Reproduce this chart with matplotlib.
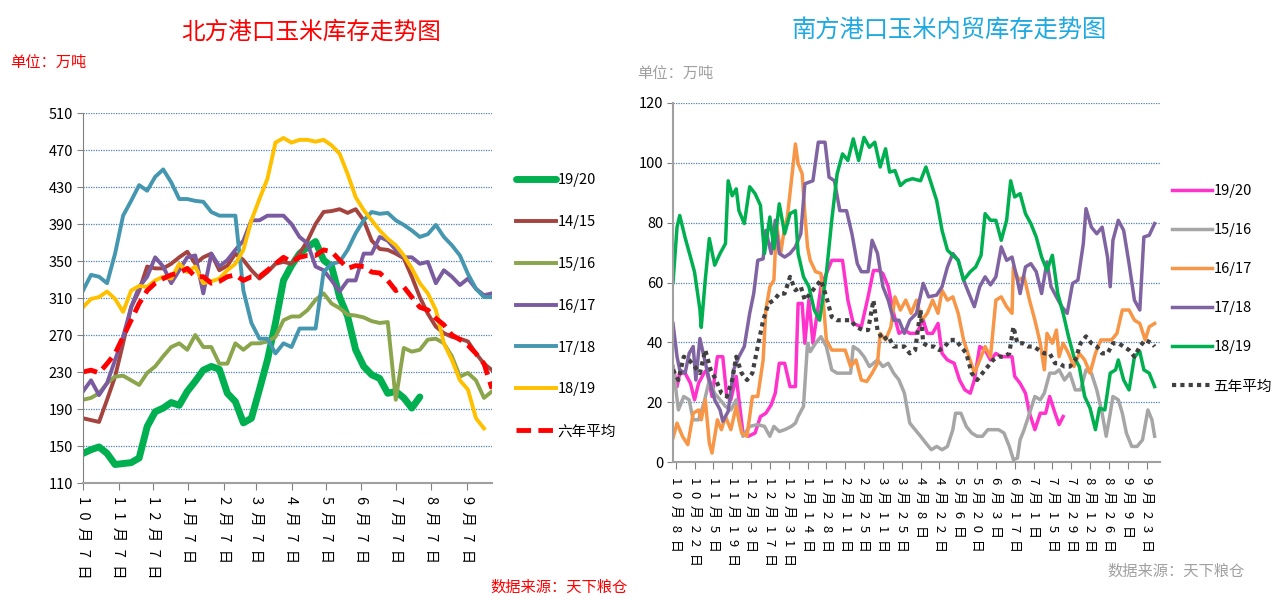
import numpy as np
import matplotlib
matplotlib.use("Agg")
import matplotlib.pyplot as plt

plt.rcParams['font.family'] = ['Noto Sans CJK SC', 'DejaVu Sans']

# ---------------- 北方港口 (weekly, days since 10月7日) ----------------
north_ticks = [0, 31, 61, 92, 123, 151, 182, 212, 243, 273, 304, 335]
north_labels = ['10月7日', '11月7日', '12月7日', '1月7日', '2月7日', '3月7日',
                '4月7日', '5月7日', '6月7日', '7月7日', '8月7日', '9月7日']

n_1920 = [142, 146, 149, 142, 130, 131, 132, 137, 171, 187, 191, 197, 194, 209, 220, 232,
          236, 233, 207, 198, 175, 180, 211, 243, 283, 329, 345, 358, 365, 371, 351, 344,
          311, 290, 254, 236, 227, 223, 207, 209, 202, 191, 203]
n_1415 = [180, 178, 176, 200, 225, 261, 300, 318, 344, 342, 342, 347, 354, 360, 347, 354,
          358, 340, 345, 358, 351, 340, 331, 338, 347, 349, 347, 358, 372, 390, 403, 404,
          406, 402, 406, 394, 372, 363, 362, 358, 353, 333, 311, 293, 279, 272, 268, 266,
          263, 250, 239, 232]
n_1516 = [200, 202, 207, 218, 225, 226, 221, 216, 229, 236, 247, 257, 261, 254, 270, 257,
          257, 239, 239, 261, 254, 261, 261, 263, 268, 286, 290, 290, 297, 308, 315, 304,
          299, 292, 291, 289, 285, 283, 284, 200, 256, 252, 254, 265, 266, 261, 247, 225,
          229, 221, 202, 209]
n_1617 = [209, 221, 205, 218, 243, 268, 300, 322, 333, 354, 344, 326, 340, 354, 356, 315,
          358, 344, 351, 362, 372, 394, 394, 399, 399, 399, 390, 376, 369, 344, 340, 329,
          317, 329, 329, 358, 358, 376, 372, 362, 354, 354, 347, 349, 326, 340, 333, 324,
          331, 320, 313, 315]
n_1718 = [318, 335, 333, 326, 358, 399, 415, 432, 426, 441, 449, 435, 417, 417, 415, 414,
          403, 399, 399, 399, 318, 283, 266, 266, 250, 261, 257, 277, 277, 277, 338, 347,
          349, 362, 380, 394, 403, 401, 402, 394, 389, 383, 376, 379, 389, 376, 367, 356,
          336, 320, 311, 311]
n_1819 = [300, 309, 311, 317, 309, 295, 318, 323, 322, 329, 333, 331, 347, 338, 344, 326,
          328, 331, 340, 347, 362, 394, 417, 439, 478, 483, 478, 481, 481, 479, 481, 475,
          466, 444, 419, 405, 394, 383, 374, 367, 356, 342, 326, 315, 297, 261, 243, 221,
          211, 180, 169]
n_avg6 = [230, 232, 229, 239, 250, 268, 286, 304, 318, 326, 331, 335, 337, 342, 333, 333,
          326, 328, 333, 335, 329, 333, 333, 340, 347, 354, 349, 354, 356, 356, 362, 360,
          351, 342, 345, 344, 338, 337, 329, 318, 322, 311, 300, 297, 288, 281, 270, 265,
          259, 250, 239, 212]

# ---------------- 南方港口 (days since 10月8日) ----------------
south_labels = ['10月8日', '10月22日', '11月5日', '11月19日', '12月3日', '12月17日', '12月31日',
                '1月14日', '1月28日', '2月11日', '2月25日', '3月11日', '3月25日', '4月8日',
                '4月22日', '5月6日', '5月20日', '6月3日', '6月17日', '7月1日', '7月15日',
                '7月29日', '8月12日', '8月26日', '9月9日', '9月23日']

s1920_d = [0, 3, 5, 9, 13, 16, 19, 23, 25, 29, 33, 37, 40, 43, 47, 49, 52, 56, 61, 65, 69, 73,
           76, 79, 83, 87, 91, 93, 96, 98, 101, 104, 110, 118, 126, 130, 134, 140, 145, 149,
           153, 156, 160, 164, 168, 172, 176, 181, 186, 189, 193, 197, 200, 204, 209, 213,
           217, 221, 224, 228, 232, 236, 240, 244, 248, 252, 254, 258, 262, 265, 269, 273,
           277, 280, 284, 287, 290]
s1920_v = [31.9, 25.2, 29.7, 29.7, 26.3, 20.8, 26.3, 29.7, 30.8, 21.9, 35.2, 35.2, 21.9, 20.8,
           28.6, 20.8, 9.7, 8.6, 9.7, 15.2, 16.3, 19.1, 23, 33, 33, 25.2, 25.2, 53, 53, 39.7,
           54.1, 39.7, 58.6, 67.4, 67.4, 54.1, 46.3, 45.2, 55.2, 64, 64, 63, 58.6, 49.7, 43,
           44.1, 43, 43, 47.4, 43, 43, 46.3, 36.3, 34.1, 33, 27.4, 24.1, 23, 27.4, 38.6, 37.4,
           34.1, 36.3, 35.2, 35.2, 35.2, 28.6, 26.3, 23, 16.3, 10.8, 16.3, 16.3, 21.9, 16.3,
           12.5, 15.2]

s1516_d = [0, 4, 8, 12, 15, 19, 23, 27, 31, 35, 39, 43, 47, 49, 52, 57, 63, 68, 72, 75, 79, 83,
           88, 91, 93, 97, 100, 102, 106, 110, 114, 118, 122, 128, 132, 134, 138, 142, 146, 152,
           156, 160, 164, 168, 172, 176, 180, 184, 188, 192, 196, 200, 204, 208, 210, 214, 218,
           222, 226, 230, 234, 238, 242, 246, 250, 253, 256, 258, 261, 265, 269, 273, 276, 280,
           284, 287, 291, 295, 299, 303, 307, 311, 315, 319, 322, 325, 327, 331, 334, 337, 341,
           345, 349, 353, 356, 358]
s1516_v = [31.9, 17.4, 21.9, 20.8, 14.1, 14.1, 19.7, 27.4, 22.9, 20.8, 18.6, 17.4, 20.8, 14.1,
           8.6, 11.9, 12.5, 11.9, 8.6, 11.9, 10.2, 10.8, 11.9, 13, 15.2, 18.6, 39.7, 36.9, 39.7,
           41.9, 38.6, 30.8, 29.7, 29.7, 29.7, 38.6, 37.4, 35.2, 31.9, 34.1, 31.9, 33, 29.7,
           27.4, 23, 13, 10.8, 8.6, 6.3, 4.1, 5.2, 4.1, 5.2, 10.8, 16.3, 16.3, 11.9, 9.7, 8.6,
           8.6, 10.8, 10.8, 10.8, 9.7, 5.2, 0.8, 1.3, 7.4, 10.8, 16.3, 21.9, 20.8, 23, 29.7,
           29.7, 30.8, 27.4, 29.7, 24.1, 24.1, 30.8, 29.7, 24.1, 16.3, 8.6, 16.3, 21.9, 20.8,
           16.3, 9.7, 5.2, 5.2, 7.4, 17.4, 14.1, 8.6]

s1617_d = [0, 3, 7, 11, 15, 19, 21, 24, 27, 29, 33, 36, 39, 43, 47, 51, 55, 59, 63, 67, 69, 72,
           75, 77, 80, 83, 85, 88, 91, 93, 96, 98, 100, 102, 106, 110, 114, 118, 122, 128, 132,
           136, 140, 144, 148, 152, 154, 158, 162, 165, 169, 173, 177, 181, 185, 189, 193, 197,
           200, 204, 208, 212, 216, 220, 224, 228, 232, 236, 240, 244, 248, 252, 253, 257, 261,
           265, 269, 273, 276, 278, 282, 285, 287, 290, 294, 298, 302, 306, 310, 314, 318, 322,
           326, 330, 334, 339, 343, 347, 351, 354, 358]
s1617_v = [8, 13, 8.6, 5.8, 16.3, 17.4, 14.1, 20.8, 6.3, 3, 14.1, 10.8, 15.2, 10.8, 18.6, 9.7,
           8.6, 21.9, 21.9, 34.1, 50.8, 58.6, 60.8, 79.7, 69.7, 78.5, 81.9, 94, 106.3, 99.7,
           96.3, 83, 71.9, 67.4, 63.6, 63, 40.8, 37.4, 37.4, 37.4, 31.9, 34.1, 27.4, 26.9, 29.7,
           33, 43, 40.8, 45.2, 55.2, 50.8, 54.1, 49.7, 54.1, 47.4, 49.7, 54.1, 49.7, 57.4, 54.1,
           55.2, 49.7, 40.8, 35.2, 29.7, 34.1, 38.6, 35.2, 54.1, 55.2, 51.9, 49.7, 65.2, 60.8,
           61.9, 54.1, 47.4, 39.7, 30.8, 43, 39.7, 44.1, 35.2, 39.7, 36.3, 31.9, 36.3, 34.1,
           29.7, 36.3, 40.8, 40.8, 40.8, 43, 50.8, 50.8, 47.4, 46.3, 40.8, 45.2, 46.3]

s1718_d = [0, 3, 5, 9, 12, 15, 17, 20, 23, 27, 31, 35, 37, 41, 45, 49, 53, 57, 60, 63, 67, 69,
           73, 76, 79, 83, 87, 91, 95, 98, 104, 108, 113, 116, 120, 124, 129, 133, 137, 140,
           145, 148, 152, 156, 160, 164, 168, 172, 176, 181, 186, 190, 196, 200, 204, 208, 212,
           216, 220, 224, 228, 232, 236, 240, 244, 248, 252, 256, 258, 262, 266, 270, 274, 278,
           281, 285, 289, 293, 297, 301, 305, 307, 311, 315, 319, 323, 325, 327, 331, 335, 339,
           343, 347, 350, 354, 358]
s1718_v = [46.3, 35.2, 30.8, 29.7, 36.3, 38.6, 27.4, 41.3, 35.2, 27.4, 20.8, 17.4, 13.6, 16.9,
           30.8, 35.2, 38.6, 49.7, 56.3, 67.4, 67.9, 77.4, 69.7, 80.8, 69.7, 68.5, 69.7, 71.9,
           76.3, 93, 94, 106.9, 106.9, 95.2, 94, 84, 84, 76.3, 66.3, 63.6, 63.6, 74.1, 69.7,
           58.6, 54.1, 47.4, 47.4, 43, 47.4, 49.7, 59.7, 55.2, 55.8, 58.6, 65.2, 69.7, 67.4,
           60.8, 56.3, 51.9, 58.6, 61.9, 59.2, 61.9, 71.9, 67.4, 68.5, 60.8, 56.3, 65.2, 66.3,
           63.6, 56.3, 66.9, 58.6, 55.2, 51.9, 49.7, 59.7, 60.8, 73, 84.7, 78.5, 76.3, 78.5,
           68.5, 58.6, 74.1, 80.8, 77.4, 66.3, 54.1, 50.8, 75.2, 75.8, 79.7]

s1819_d = [0, 3, 5, 9, 13, 16, 20, 21, 24, 27, 31, 35, 39, 41, 44, 47, 49, 53, 57, 61, 65, 68,
           72, 75, 79, 83, 87, 91, 93, 97, 101, 105, 109, 114, 118, 122, 126, 130, 134, 138,
           142, 146, 150, 154, 158, 161, 165, 169, 173, 178, 184, 188, 192, 196, 200, 204, 208,
           212, 216, 221, 225, 229, 232, 236, 240, 244, 248, 251, 254, 258, 262, 266, 270, 274,
           278, 282, 286, 290, 294, 298, 302, 306, 310, 314, 317, 321, 325, 329, 331, 335, 339,
           343, 347, 350, 354, 358]
s1819_v = [60, 78.5, 82.4, 75, 68.5, 63.5, 51, 45, 61, 74.7, 65.8, 69.7, 73, 94, 89, 91.3, 84,
           79.7, 92, 89.7, 85.8, 69.7, 81.9, 71.3, 86.3, 76.3, 83, 84, 69.7, 61.9, 58.6, 50.8,
           47.4, 63, 80.8, 96.3, 103, 100.8, 108, 100.8, 108.5, 105.2, 106.9, 98.6, 104.7,
           96.9, 97.4, 92.4, 94, 94.7, 94, 98.6, 93, 87.4, 77.4, 70.8, 69.1, 67.4, 60.8, 63.6,
           65.2, 69.1, 83, 80.8, 80.8, 74.1, 80.8, 94, 88.6, 89.7, 83, 79.7, 75.2, 68.5, 64.1,
           69.1, 56.3, 49.7, 41.9, 35.2, 31.9, 21.9, 18, 10.8, 18, 17.4, 29.7, 30.8, 34.1, 27.4,
           24.1, 35.2, 36.9, 30.8, 29.7, 25.2]

s_avg5_d = [0, 4, 8, 12, 16, 20, 24, 28, 32, 36, 40, 44, 47, 51, 55, 59, 63, 67, 71, 75, 79, 83,
            87, 91, 95, 98, 102, 106, 110, 114, 118, 122, 128, 132, 136, 141, 145, 149, 152, 156,
            160, 164, 168, 172, 176, 180, 184, 186, 190, 194, 198, 202, 206, 210, 214, 218, 222,
            226, 230, 234, 238, 242, 246, 250, 253, 256, 260, 264, 268, 272, 276, 280, 284, 287,
            291, 295, 299, 303, 307, 311, 315, 319, 323, 327, 331, 335, 339, 343, 347, 351, 356,
            358]
s_avg5_v = [30.8, 27.4, 35.2, 34.1, 31.9, 29.7, 37.4, 30.8, 27.4, 23, 21.9, 27.4, 35.2, 29.7,
            27.4, 29.7, 38.6, 47.4, 53, 54.1, 56.3, 56.3, 61.9, 57.4, 58.6, 54.1, 56.3, 58.6,
            60.8, 55.2, 48.5, 47.4, 47.4, 47.4, 45.2, 44.1, 44.1, 54.1, 44.1, 40.8, 42, 38.6,
            38.6, 38.6, 36.3, 37.4, 50.8, 39.7, 38.6, 38.6, 37.4, 38.6, 40.8, 40.8, 38.6, 36.3,
            29.7, 27.4, 29.7, 31.9, 34.1, 35.2, 35.2, 36.3, 45.2, 39.7, 39.7, 38.6, 38.6, 37.4,
            36.3, 36.3, 33, 33, 31.9, 31.9, 34.1, 39.7, 42, 39.7, 38.6, 36.3, 36.3, 39.7, 39.7,
            38.6, 37.4, 35.2, 38.6, 40.8, 39.7, 38.6]

grid_color = '#4F81BD'


def spaced(s):
    # stacked (rotated) category labels: spread the glyphs like the original
    return '\u2002'.join(s)


fig = plt.figure(figsize=(12.8, 6), dpi=100)

# ================= left chart =================
ax1 = fig.add_axes([83 / 1280, 1 - 483 / 600, 409 / 1280, 370 / 600])
wk = lambda s: np.arange(len(s)) * 7
ax1.plot(wk(n_1920), n_1920, color='#00B050', lw=5, label='19/20', solid_capstyle='round')
ax1.plot(wk(n_1415), n_1415, color='#A5433F', lw=2.8, label='14/15')
ax1.plot(wk(n_1516), n_1516, color='#8AA54B', lw=2.8, label='15/16')
ax1.plot(wk(n_1617), n_1617, color='#7B5BA0', lw=2.8, label='16/17')
ax1.plot(wk(n_1718), n_1718, color='#4597B0', lw=2.8, label='17/18')
ax1.plot(wk(n_1819), n_1819, color='#FFC000', lw=2.8, label='18/19')
ax1.plot(wk(n_avg6), n_avg6, color='#FF0000', lw=3.5, ls=(0, (3, 1.5)), label='六年平均')

ax1.set_xlim(0, 357)
ax1.set_ylim(110, 510)
ax1.set_yticks(range(110, 511, 40))
ax1.set_xticks(north_ticks)
ax1.set_xticklabels([spaced(t) for t in north_labels], rotation=-90, fontsize=10.5)
ax1.tick_params(axis='y', labelsize=10.5, length=4, color='#808080', pad=3)
ax1.tick_params(axis='x', length=5, color='#808080', pad=4)
for y in range(150, 511, 40):
    ax1.axhline(y, color=grid_color, lw=0.9, ls=(0, (1, 1)), zorder=0)
for s in ['top', 'right']:
    ax1.spines[s].set_visible(False)
ax1.spines['left'].set_color('#808080')
ax1.spines['bottom'].set_color('#A0A0A0')
ax1.spines['bottom'].set_linewidth(1.5)
ax1.legend(loc='upper left', bbox_to_anchor=(503 / 1280, 1 - 160 / 600),
           bbox_transform=fig.transFigure, frameon=False, fontsize=10.5,
           handlelength=2.7, handletextpad=0.15, labelspacing=1.91)

fig.text(311 / 1280, 1 - 32 / 600, '北方港口玉米库存走势图', color='#FF0000',
         fontsize=17, ha='center', va='center')
fig.text(10 / 1280, 1 - 62 / 600, '单位：万吨', color='#FF0000', fontsize=11, va='center')
fig.text(490 / 1280, 1 - 587 / 600, '数据来源：天下粮仓', color='#FF0000', fontsize=11,
         va='center')

# ================= right chart =================
ax2 = fig.add_axes([673 / 1280, 1 - 462 / 600, 487 / 1280, 359 / 600])
ax2.plot(s1920_d, s1920_v, color='#FF33CC', lw=2.5, label='19/20')
ax2.plot(s1516_d, s1516_v, color='#A6A6A6', lw=2.5, label='15/16')
ax2.plot(s1617_d, s1617_v, color='#F79646', lw=2.5, label='16/17')
ax2.plot(s1718_d, s1718_v, color='#8064A2', lw=2.5, label='17/18')
ax2.plot(s1819_d, s1819_v, color='#00B050', lw=2.5, label='18/19')
ax2.plot(s_avg5_d, s_avg5_v, color='#404040', lw=3, ls=(0, (1, 1)), label='五年平均')

ax2.set_xlim(0, 362)
ax2.set_ylim(0, 120)
ax2.set_yticks(range(0, 121, 20))
ax2.set_xticks([2 + 14 * i for i in range(len(south_labels))])
ax2.set_xticklabels([spaced(t) for t in south_labels], rotation=-90, fontsize=9.5)
ax2.tick_params(axis='y', labelsize=10.5, length=4, color='#808080', pad=3)
ax2.tick_params(axis='x', length=5, color='#808080', pad=6)
for y in range(20, 121, 20):
    ax2.axhline(y, color=grid_color, lw=0.9, ls=(0, (1, 1)), zorder=0)
for s in ['top', 'right']:
    ax2.spines[s].set_visible(False)
ax2.spines['left'].set_color('#A0A0A0')
ax2.spines['bottom'].set_color('#A0A0A0')
ax2.spines['left'].set_linewidth(1.5)
ax2.spines['bottom'].set_linewidth(1.5)
ax2.legend(loc='upper left', bbox_to_anchor=(1159 / 1280, 1 - 171 / 600),
           bbox_transform=fig.transFigure, frameon=False, fontsize=10.5,
           handlelength=2.7, handletextpad=0.15, labelspacing=1.72)

fig.text(949 / 1280, 1 - 30 / 600, '南方港口玉米内贸库存走势图', color='#1FA9E1',
         fontsize=17.5, ha='center', va='center')
fig.text(637 / 1280, 1 - 73 / 600, '单位：万吨', color='#A0A0A0', fontsize=11, va='center')
fig.text(1107 / 1280, 1 - 571 / 600, '数据来源：天下粮仓', color='#A0A0A0', fontsize=11,
         va='center')

fig.savefig('out.png', dpi=100)
